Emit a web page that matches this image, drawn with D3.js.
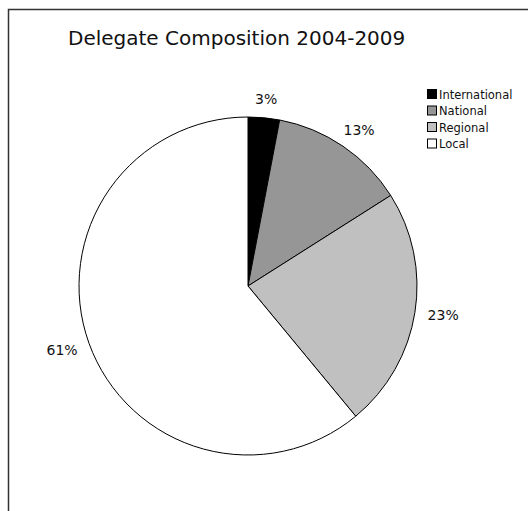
<!DOCTYPE html>
<html>
<head>
<meta charset="utf-8">
<script src="https://cdn.jsdelivr.net/npm/d3@7"></script>
<style>
  html, body { margin: 0; padding: 0; background: #fff; }
  svg { display: block; }
</style>
</head>
<body>
<svg id="chart" width="528" height="511"></svg>
<script>
// Delegate composition shares (percent)
const categories = ["International", "National", "Regional", "Local"];
const shares = [3, 13, 23, 61];
const fills = ["#000000", "#969696", "#c0c0c0", "#ffffff"];

const svg = d3.select("#chart");
const font = "Verdana, 'DejaVu Sans', sans-serif";

// Outer frame (runs off the right and bottom edges)
svg.append("rect")
  .attr("x", 8.5).attr("y", 9.5)
  .attr("width", 540).attr("height", 540)
  .attr("fill", "none").attr("stroke", "#333").attr("stroke-width", 1.5);

svg.append("text")
  .attr("x", 68).attr("y", 45)
  .attr("font-family", font).attr("font-size", 20)
  .attr("fill", "#111")
  .text("Delegate Composition 2004-2009");

const cx = 248, cy = 286, r = 169;
const pie = d3.pie().sort(null).value(d => d)(shares);
const arc = d3.arc().innerRadius(0).outerRadius(r);

const g = svg.append("g").attr("transform", `translate(${cx},${cy})`);
g.selectAll("path.slice")
  .data(pie)
  .join("path")
  .attr("class", "slice")
  .attr("d", arc)
  .attr("fill", (d, i) => fills[i])
  .attr("stroke", "#000")
  .attr("stroke-width", 1)
  .attr("stroke-linejoin", "round");

// Percent labels: box pushed outward from the rim along the slice bisector
const gap = 13;
g.selectAll("text.pct")
  .data(pie)
  .join("text")
  .attr("class", "pct")
  .attr("text-anchor", "middle")
  .attr("dy", "0.35em")
  .attr("font-family", font).attr("font-size", 14)
  .attr("fill", "#111")
  .text(d => d.data + "%")
  .each(function (d) {
    const bb = this.getBBox();
    const a = (d.startAngle + d.endAngle) / 2;
    const s = Math.sin(a), c = Math.cos(a);
    const x = (r + gap) * s + (bb.width / 2) * s;
    const y = -(r + gap) * c - (bb.height / 2 - 2) * c;
    d3.select(this).attr("transform", `translate(${x},${y})`);
  });

// Legend
const legend = svg.append("g").attr("transform", "translate(427,89)");
const rows = legend.selectAll("g")
  .data(categories)
  .join("g")
  .attr("transform", (d, i) => `translate(0,${i * 16.5})`);
rows.append("rect")
  .attr("x", 0.5).attr("y", 0.5)
  .attr("width", 9).attr("height", 9)
  .attr("fill", (d, i) => fills[i])
  .attr("stroke", "#000").attr("stroke-width", 1);
rows.append("text")
  .attr("x", 12).attr("y", 9.5)
  .attr("font-family", font).attr("font-size", 11.5)
  .attr("fill", "#111")
  .text(d => d);
</script>
</body>
</html>
